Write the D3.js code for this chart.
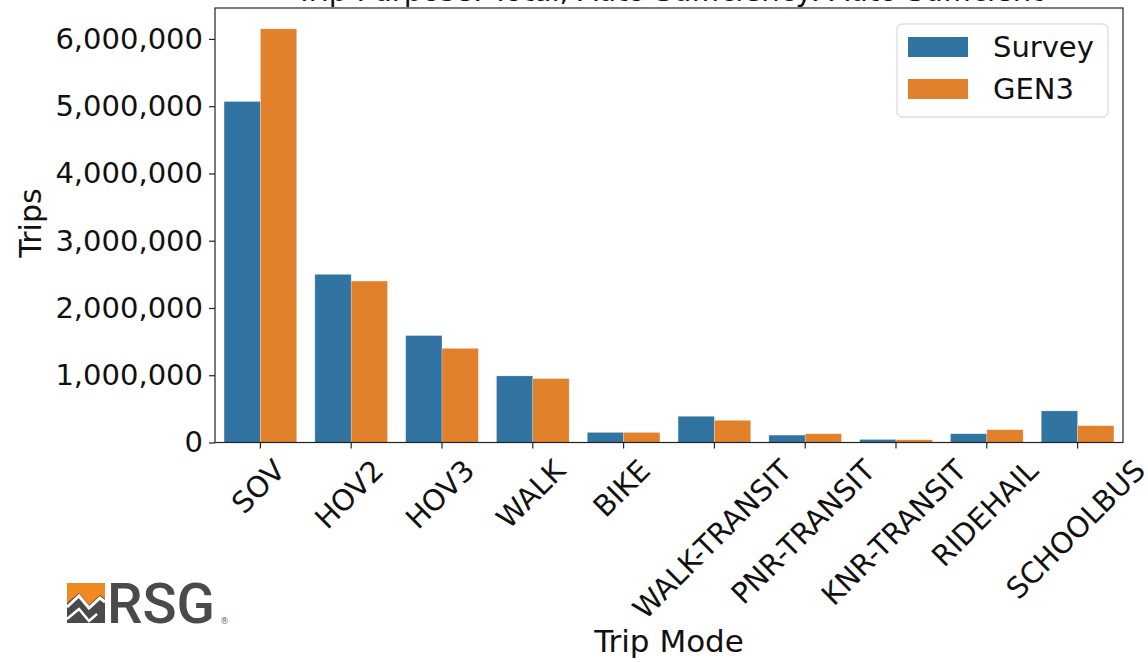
<!DOCTYPE html>
<html><head><meta charset="utf-8">
<script src="https://cdn.jsdelivr.net/npm/d3@7/dist/d3.min.js"></script>
<style>body{margin:0;background:#fff;} svg{display:block;font-family:"DejaVu Sans",sans-serif;}</style>
</head><body>
<svg id="c" width="1148" height="662"></svg>
<script>
const categories = ["SOV","HOV2","HOV3","WALK","BIKE","WALK-TRANSIT","PNR-TRANSIT","KNR-TRANSIT","RIDEHAIL","SCHOOLBUS"];
const seriesNames = ["Survey","GEN3"];
const surveyValues = [5070000,2500000,1590000,990000,150000,390000,110000,45000,130000,470000];
const gen3Values = [6150000,2400000,1400000,950000,150000,330000,130000,40000,190000,250000];
const yTicks = [0,1000000,2000000,3000000,4000000,5000000,6000000];
const colors = ["#3274a1","#e1812c"];
const title = "Trip Purpose: Total, Auto Sufficiency: Auto Sufficient";

const svg = d3.select("#c");
const L = 215, R = 1123, T = 8, B = 442.5;
const x = d3.scaleBand().domain(categories).range([L, R]).padding(0);
const xs = d3.scaleBand().domain(seriesNames).range([x.bandwidth()*0.1, x.bandwidth()*0.9]).padding(0);
const y = d3.scaleLinear().domain([0, 6460000]).range([B, T]);
const data = [surveyValues, gen3Values];
const FS = 29;

// bars
seriesNames.forEach((s, si) => {
  svg.append("g").selectAll("rect").data(categories).join("rect")
    .attr("x", c => x(c) + xs(s))
    .attr("width", xs.bandwidth())
    .attr("y", (c, i) => y(data[si][i]))
    .attr("height", (c, i) => B - y(data[si][i]))
    .attr("fill", colors[si])
    .attr("stroke", "#ffffff").attr("stroke-opacity", 0.4).attr("stroke-width", 0.6);
});

// frame
svg.append("rect").attr("x", L).attr("y", T).attr("width", R-L).attr("height", B-T)
  .attr("fill", "none").attr("stroke", "#222").attr("stroke-width", 1.2);

// y axis
const fmt = d3.format(",");
const yAxis = d3.axisLeft(y).tickValues(yTicks).tickFormat(d => fmt(d)).tickSize(6).tickPadding(6);
const ya = svg.append("g").attr("transform", `translate(${L},0)`).call(yAxis);
ya.select(".domain").remove();
ya.selectAll("text").attr("font-size", FS).attr("fill", "#111").attr("font-family", "DejaVu Sans");
ya.selectAll("line").attr("stroke", "#222").attr("stroke-width", 1.2);

// x axis
const xAxis = d3.axisBottom(x).tickSize(6).tickFormat("");
const xa = svg.append("g").attr("transform", `translate(0,${B})`).call(xAxis);
xa.select(".domain").remove();
xa.selectAll("line").attr("stroke", "#222").attr("stroke-width", 1.2);

const xl = svg.append("g");
categories.forEach(c => {
  const t = xl.append("text").text(c).attr("font-size", FS).attr("fill", "#111")
    .attr("text-anchor", "middle").attr("dominant-baseline", "central");
  const w = t.node().getComputedTextLength();
  const h = FS * 0.95;
  const half = (w + h) / (2 * Math.SQRT2);
  const cx = x(c) + x.bandwidth()/2 - 2;
  const cy = B + 13 + half;
  t.attr("x", 0).attr("y", 0).attr("transform", `translate(${cx},${cy}) rotate(-45)`);
});

// axis titles
svg.append("text").text("Trips").attr("font-size", FS+1).attr("fill", "#111")
  .attr("text-anchor", "middle").attr("transform", `translate(41,223) rotate(-90)`);
svg.append("text").text("Trip Mode").attr("font-size", FS+2).attr("fill", "#111")
  .attr("text-anchor", "middle").attr("x", (L+R)/2).attr("y", 652);
svg.append("text").text(title).attr("font-size", FS).attr("fill", "#111")
  .attr("text-anchor", "middle").attr("x", (L+R)/2).attr("y", 1);

// legend
const lg = svg.append("g");
lg.append("rect").attr("x", 897).attr("y", 24).attr("width", 211).attr("height", 93).attr("rx", 5)
  .attr("fill", "#fff").attr("fill-opacity", 0.8).attr("stroke", "#d0d0d0").attr("stroke-width", 1);
seriesNames.forEach((s, i) => {
  lg.append("rect").attr("x", 908).attr("y", 37 + i*42).attr("width", 60).attr("height", 20).attr("fill", colors[i]);
  lg.append("text").text(s).attr("x", 993).attr("y", 57 + i*42).attr("font-size", FS).attr("fill", "#111");
});

// RSG logo
const lo = svg.append("g").attr("transform", "translate(67,583)");
lo.append("rect").attr("x", 0).attr("y", 0).attr("width", 38).attr("height", 40).attr("fill", "#4a4a4a");
lo.append("polygon").attr("points", "0,0 38,0 38,16 33,12 22,22 12,10 0,20").attr("fill", "#ee8a1f");
lo.append("polyline").attr("points", "0,24 12,13 22,25 33,15 38,19").attr("fill", "none").attr("stroke", "#fff").attr("stroke-width", 3);
lo.append("polyline").attr("points", "0,36 12,26 22,38 30,31").attr("fill", "none").attr("stroke", "#fff").attr("stroke-width", 2.5);
lo.append("text").text("RSG").attr("x", 40).attr("y", 40).attr("font-size", 56).attr("font-weight", "500")
  .attr("fill", "#4a4a4a").attr("font-family", "Roboto, sans-serif").attr("letter-spacing", 0)
  .attr("textLength", 108).attr("lengthAdjust", "spacingAndGlyphs");
lo.append("text").text("®").attr("x", 153).attr("y", 41).attr("font-size", 9).attr("fill", "#666");
</script>
</body></html>
